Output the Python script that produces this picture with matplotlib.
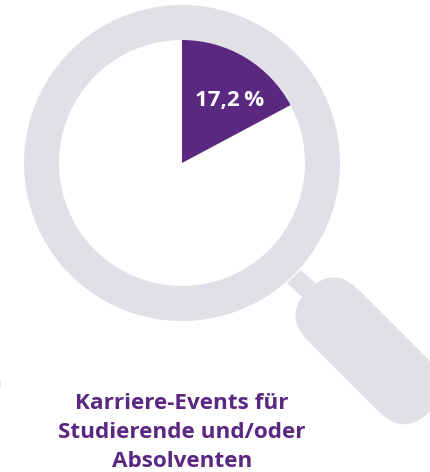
#!/usr/bin/env python3
"""Magnifying glass chart: share of Karriere-Events, as a wedge inside the lens."""

import matplotlib
matplotlib.use('Agg')
import matplotlib.pyplot as plt
from matplotlib.patches import Circle, FancyBboxPatch, Polygon, Wedge
from matplotlib.transforms import Affine2D

share_values = [17.2]
share_labels = ['17,2\u2009%']
caption_lines = ['Karriere-Events für', 'Studierende und/oder', 'Absolventen']

PURPLE = '#5A2781'
GREY = '#E1E0E7'
W, H = 430, 472

plt.rcParams['font.family'] = ['Open Sans', 'DejaVu Sans']

fig = plt.figure(figsize=(W / 100, H / 100), dpi=100, facecolor='white')
ax = fig.add_axes([0, 0, 1, 1])
ax.set_xlim(0, W)
ax.set_ylim(H, 0)  # pixel coordinates, y down
ax.set_aspect('equal')
ax.axis('off')

cx, cy = 182, 163
r_in, r_out = 123, 158

# lens ring
ax.add_patch(Circle((cx, cy), r_out, fc=GREY, ec='none', zorder=1))
ax.add_patch(Circle((cx, cy), r_in, fc='white', ec='none', zorder=2))

# connector between ring and handle
ax.add_patch(Polygon([(300.5, 270), (287, 283), (302, 297), (315.5, 283)],
                     closed=True, fc=GREY, ec='none', zorder=1))

# handle as a rotated stadium
length, radius = 100, 36
handle = FancyBboxPatch((-radius, -radius), length + 2 * radius, 2 * radius,
                        boxstyle=f'round,pad=0,rounding_size={radius}',
                        fc=GREY, ec='none', zorder=1)
handle.set_transform(Affine2D().rotate_deg(45).translate(333.5, 315.5) + ax.transData)
ax.add_patch(handle)

# sliver of the neighbouring graphic at the left edge
ax.add_patch(Circle((-13, 384), 14, fc=GREY, ec='none', zorder=1))

# data wedge, clockwise from 12 o'clock (y axis is inverted)
sweep = share_values[0] / 100 * 360
ax.add_patch(Wedge((cx, cy), r_in, -90, -90 + sweep, fc=PURPLE, ec='none', zorder=3))

ax.text(230, 106, share_labels[0], color='white', fontsize=16, fontweight='bold',
        ha='center', va='baseline', zorder=4)

for line, y in zip(caption_lines, [409, 438, 467]):
    ax.text(182, y, line, color=PURPLE, fontsize=16.2, fontweight='bold',
            ha='center', va='baseline', zorder=4)

fig.savefig('out.png', dpi=100, facecolor='white')
